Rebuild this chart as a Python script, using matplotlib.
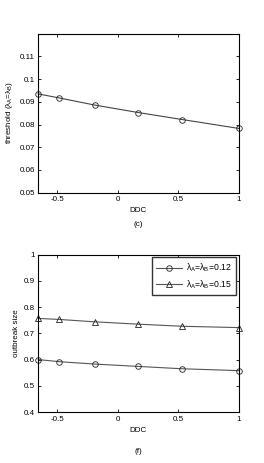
import matplotlib
matplotlib.use('Agg')
import matplotlib.pyplot as plt
from matplotlib.ticker import FuncFormatter

plt.rcParams['font.family'] = ['Liberation Sans', 'DejaVu Sans']
plt.rcParams['mathtext.fontset'] = 'custom'
plt.rcParams['mathtext.rm'] = 'Liberation Sans'
plt.rcParams['mathtext.it'] = 'Liberation Sans'

ddc = [-0.655, -0.48, -0.19, 0.17, 0.535, 1.0]
threshold = [0.0935, 0.0917, 0.0886, 0.0853, 0.0822, 0.0783]
size_012 = [0.600, 0.592, 0.583, 0.574, 0.565, 0.558]
size_015 = [0.757, 0.753, 0.744, 0.735, 0.727, 0.722]

fs = 5.8
gfmt = FuncFormatter(lambda v, p: '%g' % v)

fig = plt.figure(figsize=(2.64, 4.63), dpi=100)


def style(ax):
    ax.tick_params(direction='in', top=True, right=True, labelsize=fs,
                   length=2.5, width=0.6, pad=2.5)
    for s in ax.spines.values():
        s.set_linewidth(0.8)
    ax.set_xlim(ddc[0], ddc[-1])
    ax.set_xticks([-0.5, 0, 0.5, 1])
    ax.xaxis.set_major_formatter(gfmt)
    ax.yaxis.set_major_formatter(gfmt)
    ax.set_xlabel('DDC', fontsize=fs, labelpad=3)


ax1 = fig.add_axes([0.145, 0.584, 0.759, 0.343])
ax1.plot(ddc, threshold, color='#444444', lw=0.8, marker='o', ms=4,
         mfc='none', mec='#222222', mew=0.6, clip_on=False)
style(ax1)
ax1.set_ylim(0.05, 0.12)
ax1.set_yticks([0.05, 0.06, 0.07, 0.08, 0.09, 0.1, 0.11])
ax1.set_ylabel(r'threshold ($\lambda_A$=$\lambda_B$)', fontsize=fs, labelpad=3)
fig.text(0.524, 0.516, '(c)', ha='center', va='center', fontsize=fs)

ax2 = fig.add_axes([0.145, 0.110, 0.759, 0.340])
ax2.plot(ddc, size_012, color='#555555', lw=0.8, marker='o', ms=4,
         mfc='none', mec='#222222', mew=0.6, clip_on=False,
         label=r'$\lambda_A$=$\lambda_B$=0.12')
ax2.plot(ddc, size_015, color='#555555', lw=0.8, marker='^', ms=4.5,
         mfc='none', mec='#222222', mew=0.6, clip_on=False,
         label=r'$\lambda_A$=$\lambda_B$=0.15')
style(ax2)
ax2.set_ylim(0.4, 1.0)
ax2.set_yticks([0.4, 0.5, 0.6, 0.7, 0.8, 0.9, 1.0])
ax2.set_ylabel('outbreak size', fontsize=fs, labelpad=3)
leg = ax2.legend(loc='upper right', fontsize=fs + 0.4, fancybox=False,
                 framealpha=1, edgecolor='#333333', handlelength=3.0,
                 borderaxespad=0.3, handletextpad=0.5, labelspacing=0.5,
                 borderpad=0.5)
leg.get_frame().set_linewidth(1.0)
fig.text(0.524, 0.024, '(f)', ha='center', va='center', fontsize=fs)

fig.savefig('out.png', dpi=100)
